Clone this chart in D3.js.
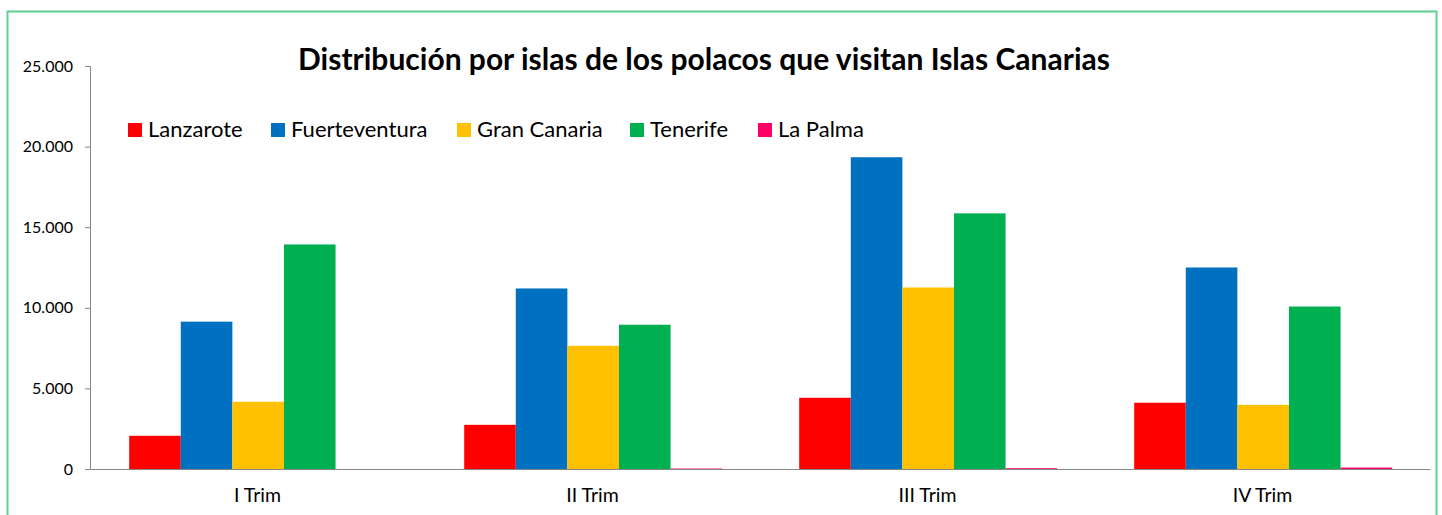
<!DOCTYPE html>
<html>
<head>
<meta charset="utf-8">
<script src="https://cdn.jsdelivr.net/npm/d3@7"></script>
<style>
  body { margin: 0; background: #fff; }
  text { font-family: Lato, "Open Sans", sans-serif; fill: #000; }
</style>
</head>
<body>
<div id="chart"></div>
<script>
// data
var trimestres = ["I Trim", "II Trim", "III Trim", "IV Trim"];
var islas = ["Lanzarote", "Fuerteventura", "Gran Canaria", "Tenerife", "La Palma"];
var colores = ["#ff0000", "#0070c0", "#ffc000", "#00b050", "#ff0066"];
var lanzarote = [2060, 2740, 4420, 4110];
var fuerteventura = [9140, 11200, 19340, 12500];
var granCanaria = [4170, 7640, 11260, 3980];
var tenerife = [13930, 8950, 15860, 10080];
var laPalma = [0, 30, 50, 90];
var yTicks = [0, 5000, 10000, 15000, 20000, 25000];

var series = [lanzarote, fuerteventura, granCanaria, tenerife, laPalma];

var svgWidth = 1442;
var svgHeight = 515;
var margin = { top: 66, right: 12, bottom: 46, left: 90 };
var width = 1430 - margin.left;
var height = 469 - margin.top;

var svg = d3.select("#chart")
  .append("svg")
  .attr("width", svgWidth)
  .attr("height", svgHeight);

// outer green frame (runs off the bottom)
svg.append("rect")
  .attr("x", 7.5)
  .attr("y", 11.5)
  .attr("width", 1429)
  .attr("height", 520)
  .attr("fill", "none")
  .attr("stroke", "#5fd08f")
  .attr("stroke-width", 2);

var chartGroup = svg.append("g")
  .attr("transform", `translate(${margin.left}, ${margin.top})`);

var x0 = d3.scaleBand()
  .domain(trimestres)
  .range([0, width]);

var x1 = d3.scaleBand()
  .domain(islas)
  .range([0, x0.bandwidth() * 0.77])
  .padding(0);

var y = d3.scaleLinear()
  .domain([0, 25000])
  .range([height, 0]);

var fmt = d3.formatLocale({ decimal: ",", thousands: ".", grouping: [3], currency: ["", "€"] }).format(",.0f");

// y axis
var leftAxis = d3.axisLeft(y).tickValues(yTicks).tickSize(5).tickPadding(12).tickFormat(fmt);
var yAxisG = chartGroup.append("g").call(leftAxis);
yAxisG.select(".domain").attr("stroke", "#868686");
yAxisG.selectAll(".tick line").attr("stroke", "#868686");
yAxisG.selectAll(".tick text")
  .style("font-size", "16px")
  .style("font-family", "Lato, sans-serif");

// bars
var groups = chartGroup.selectAll(".trim")
  .data(trimestres)
  .enter()
  .append("g")
  .attr("class", "trim")
  .attr("transform", d => `translate(${x0(d) + x0.bandwidth() * 0.117}, 0)`);

groups.selectAll("rect")
  .data((t, i) => islas.map((isla, k) => ({ isla: isla, value: series[k][i], color: colores[k] })))
  .enter()
  .append("rect")
  .attr("x", d => x1(d.isla))
  .attr("y", d => y(d.value))
  .attr("width", x1.bandwidth())
  .attr("height", d => height - y(d.value))
  .attr("fill", d => d.color);

// x axis
var bottomAxis = d3.axisBottom(x0).tickSize(0).tickPadding(19);
var xAxisG = chartGroup.append("g")
  .attr("transform", `translate(0, ${height})`)
  .call(bottomAxis);
xAxisG.select(".domain").attr("stroke", "#868686");
xAxisG.selectAll(".tick text")
  .style("font-size", "19.5px")
  .style("font-family", "Lato, sans-serif");

// title
svg.append("text")
  .attr("x", 704)
  .attr("y", 70)
  .attr("text-anchor", "middle")
  .style("font-size", "30px")
  .style("font-weight", "bold")
  .text("Distribución por islas de los polacos que visitan Islas Canarias");

// legend
var legendX = [128, 271, 457, 630, 758];
var legend = svg.selectAll(".legend")
  .data(islas)
  .enter()
  .append("g")
  .attr("class", "legend")
  .attr("transform", (d, i) => `translate(${legendX[i]}, 123)`);

legend.append("rect")
  .attr("width", 14)
  .attr("height", 14)
  .attr("fill", (d, i) => colores[i]);

legend.append("text")
  .attr("x", 20)
  .attr("y", 14)
  .style("font-size", "22px")
  .text(d => d);
</script>
</body>
</html>
